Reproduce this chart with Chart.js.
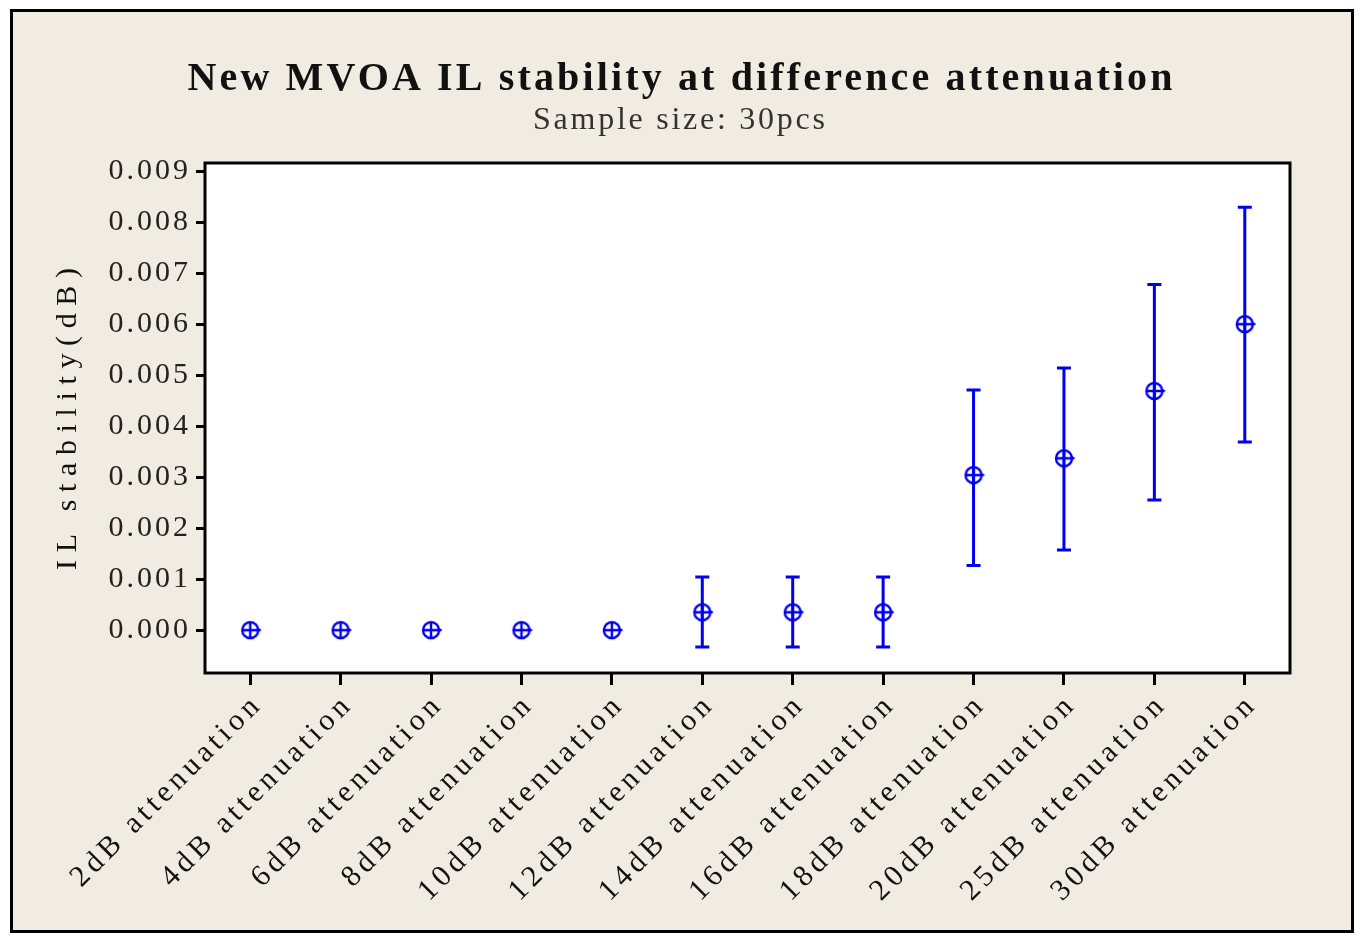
<!DOCTYPE html>
<html>
<head>
<meta charset="utf-8">
<script src="https://cdn.jsdelivr.net/npm/chart.js@4.4.1/dist/chart.umd.min.js"></script>
<style>
  html, body { margin: 0; padding: 0; background: #ffffff; }
  canvas { display: block; }
</style>
</head>
<body>
<canvas id="chart" width="1364" height="945"></canvas>
<script>
// values
const categories = ['2dB attenuation', '4dB attenuation', '6dB attenuation', '8dB attenuation',
    '10dB attenuation', '12dB attenuation', '14dB attenuation', '16dB attenuation',
    '18dB attenuation', '20dB attenuation', '25dB attenuation', '30dB attenuation'];
const means = [0, 0, 0, 0, 0, 0.00035, 0.00035, 0.00035, 0.00304, 0.00337, 0.00469, 0.0060];
const upper = [0, 0, 0, 0, 0, 0.00104, 0.00104, 0.00104, 0.00471, 0.00514, 0.00678, 0.00829];
const lower = [0, 0, 0, 0, 0, -0.00033, -0.00033, -0.00033, 0.00127, 0.00157, 0.00255, 0.00369];
const yTicks = [0, 0.001, 0.002, 0.003, 0.004, 0.005, 0.006, 0.007, 0.008, 0.009];

const titleText = 'New MVOA IL stability at difference attenuation';
const subtitleText = 'Sample size: 30pcs';
const yTitleText = 'IL stability(dB)';

const BLUE = '#0000ee';
const SERIF = '"Liberation Serif", "DejaVu Serif", serif';

// circle with a cross, like the minitab symbol
function makeMarker() {
    const c = document.createElement('canvas');
    c.width = 26; c.height = 26;
    const g = c.getContext('2d');
    g.strokeStyle = BLUE;
    g.lineWidth = 2.4;
    g.beginPath();
    g.arc(13, 13, 8, 0, Math.PI * 2);
    g.stroke();
    g.beginPath();
    g.moveTo(5, 13); g.lineTo(21, 13);
    g.moveTo(13, 5); g.lineTo(13, 21);
    g.moveTo(20, 11.5); g.lineTo(23.5, 13.5);
    g.stroke();
    return c;
}

// draws text stretched to a given width with letter spacing
function spacedText(ctx, text, font, x, y, width) {
    ctx.font = font;
    ctx.letterSpacing = '0px';
    const w = ctx.measureText(text).width;
    const sp = (width - w) / (text.length - 1);
    ctx.letterSpacing = sp + 'px';
    ctx.textAlign = 'left';
    ctx.textBaseline = 'alphabetic';
    ctx.fillText(text, x - width / 2, y);
}

const frame = {
    id: 'frame',
    beforeDraw(chart) {
        const { ctx, chartArea } = chart;
        ctx.save();
        ctx.fillStyle = '#ffffff';
        ctx.fillRect(0, 0, chart.width, chart.height);
        ctx.fillStyle = '#f0ece2';
        ctx.fillRect(11, 10, 1342, 922);
        ctx.strokeStyle = '#000';
        ctx.lineWidth = 3;
        ctx.strokeRect(11.5, 10.5, 1341, 921);
        ctx.fillStyle = '#ffffff';
        ctx.fillRect(chartArea.left, chartArea.top, chartArea.right - chartArea.left, chartArea.bottom - chartArea.top);
        ctx.restore();
    },
    afterDraw(chart) {
        const { ctx, chartArea } = chart;
        ctx.save();
        ctx.strokeStyle = '#000';
        ctx.lineWidth = 3;
        ctx.strokeRect(chartArea.left, chartArea.top, chartArea.right - chartArea.left, chartArea.bottom - chartArea.top);

        ctx.fillStyle = '#111';
        spacedText(ctx, titleText, 'bold 40px ' + SERIF, 680, 90, 985);
        ctx.fillStyle = '#333';
        spacedText(ctx, subtitleText, '32px ' + SERIF, 679, 129, 292);

        ctx.fillStyle = '#111';
        ctx.translate(76, 419);
        ctx.rotate(-Math.PI / 2);
        spacedText(ctx, yTitleText, '30px ' + SERIF, 0, 0, 302);
        ctx.restore();
    }
};

const errorBars = {
    id: 'errorBars',
    beforeDatasetsDraw(chart) {
        const { ctx, scales } = chart;
        ctx.save();
        ctx.strokeStyle = BLUE;
        ctx.lineWidth = 3;
        categories.forEach((c, i) => {
            if (upper[i] === lower[i]) return;
            const x = scales.x.getPixelForValue(i);
            const yHi = scales.y.getPixelForValue(upper[i]);
            const yLo = scales.y.getPixelForValue(lower[i]);
            ctx.beginPath();
            ctx.moveTo(x, yHi); ctx.lineTo(x, yLo);
            ctx.moveTo(x - 7, yHi); ctx.lineTo(x + 7, yHi);
            ctx.moveTo(x - 7, yLo); ctx.lineTo(x + 7, yLo);
            ctx.stroke();
        });
        ctx.restore();
    }
};

// wider letter spacing for the tick labels, separate per axis
const tickSpacing = {
    id: 'tickSpacing',
    afterUpdate(chart) {
        [['x', '4.5px'], ['y', '3px']].forEach(([id, sp]) => {
            const s = chart.scales[id];
            if (!s || s._spaced) return;
            const orig = s.drawLabels.bind(s);
            s.drawLabels = (area) => {
                const prev = s.ctx.letterSpacing;
                s.ctx.letterSpacing = sp;
                orig(area);
                s.ctx.letterSpacing = prev;
            };
            s._spaced = true;
        });
    }
};

new Chart(document.getElementById('chart'), {
    type: 'line',
    data: {
        labels: categories,
        datasets: [{
            data: means,
            showLine: false,
            pointStyle: makeMarker(),
            pointRadius: 9,
            borderColor: BLUE,
            backgroundColor: BLUE
        }]
    },
    options: {
        responsive: false,
        animation: false,
        layout: { padding: { left: 20, right: 74, top: 163, bottom: 12 } },
        plugins: {
            legend: { display: false },
            tooltip: { enabled: false }
        },
        scales: {
            x: {
                type: 'category',
                offset: true,
                afterFit: s => { s.height = 260; },
                grid: { drawOnChartArea: false, tickLength: 12, tickWidth: 3, tickColor: '#000', offset: false },
                border: { display: false },
                ticks: {
                    minRotation: 45, maxRotation: 45, padding: 2, labelOffset: 8,
                    color: '#111',
                    font: { family: SERIF, size: 30 }
                }
            },
            y: {
                min: -0.00084,
                max: 0.00916,
                afterFit: s => { s.width = 185; },
                afterBuildTicks: s => { s.ticks = yTicks.map(v => ({ value: v })); },
                grid: { drawOnChartArea: false, tickLength: 9, tickWidth: 3, tickColor: '#000' },
                border: { display: false },
                ticks: {
                    padding: 5,
                    color: '#222',
                    font: { family: SERIF, size: 30 },
                    callback: v => v.toFixed(3)
                }
            }
        }
    },
    plugins: [frame, errorBars, tickSpacing]
});
</script>
</body>
</html>
